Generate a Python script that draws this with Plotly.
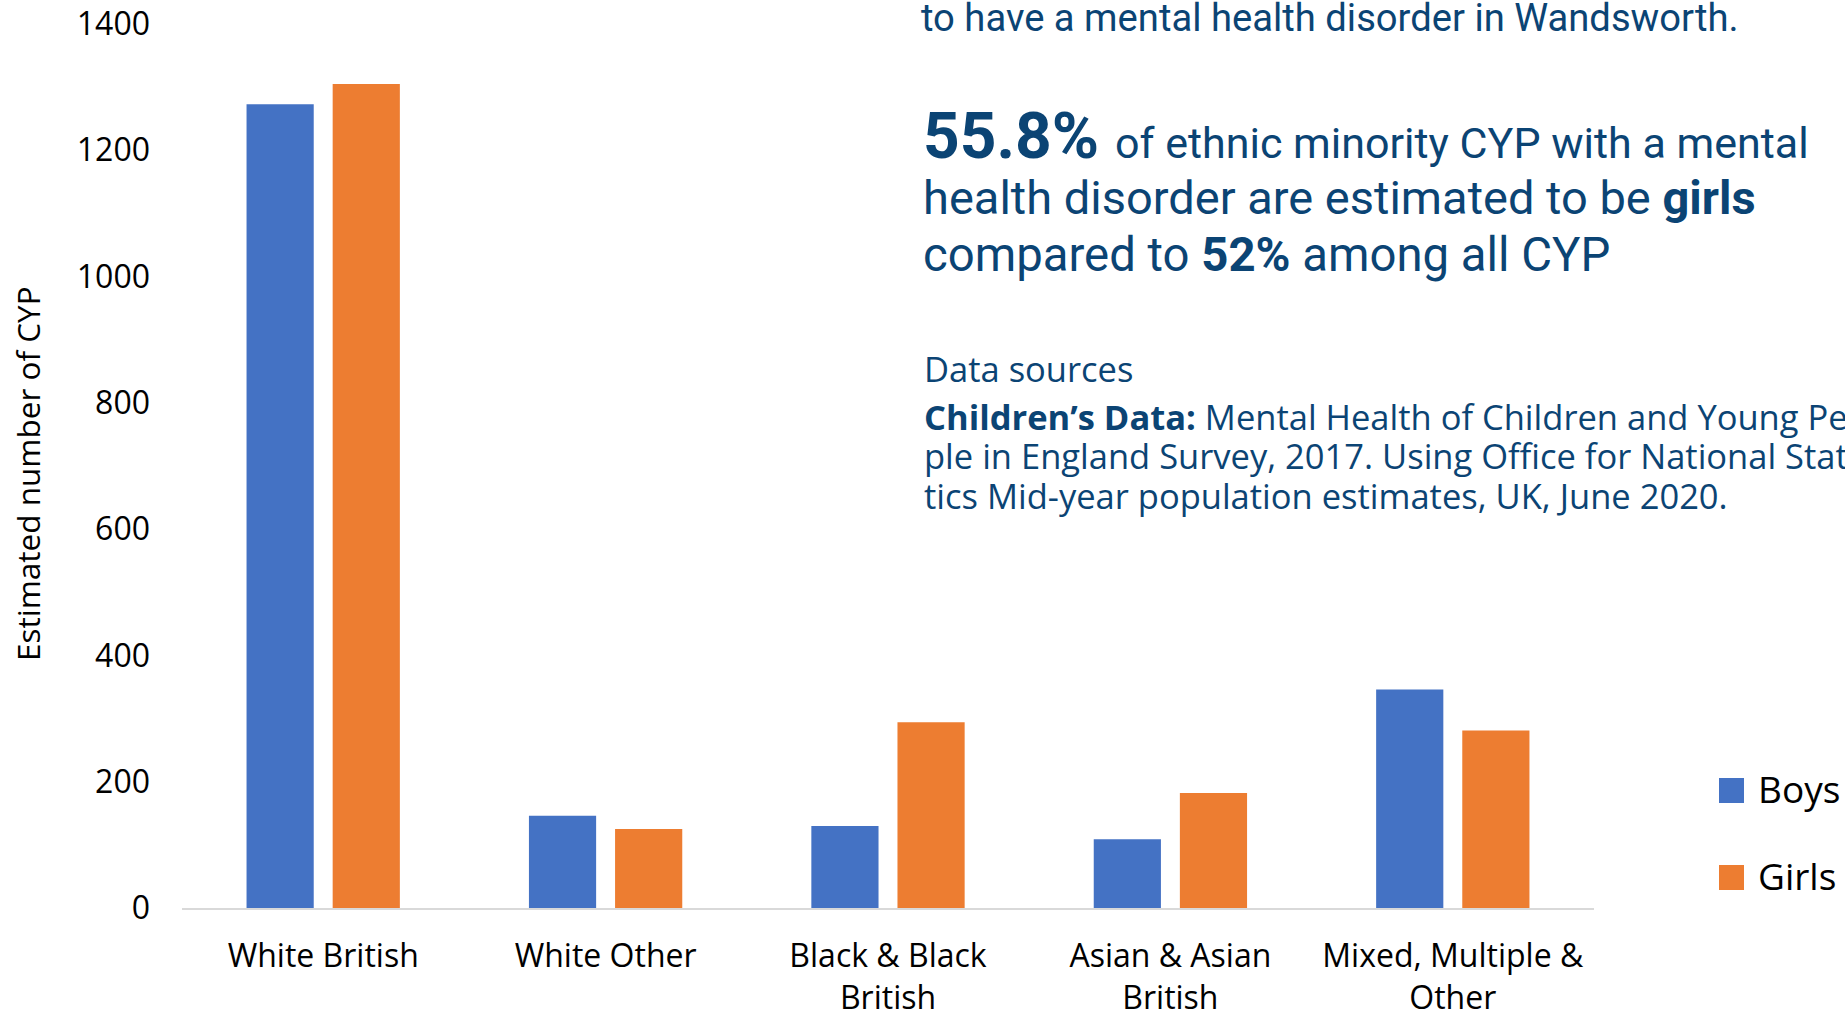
import plotly.graph_objects as go

# Estimated number of children and young people (CYP) with a mental health
# disorder in Wandsworth, by ethnic group and sex
categories = [
    "White British",
    "White Other",
    "Black & Black British",
    "Asian & Asian British",
    "Mixed, Multiple & Other",
]
category_labels = [
    "White British",
    "White Other",
    "Black & Black<br>British",
    "Asian & Asian<br>British",
    "Mixed, Multiple &<br>Other",
]
boys = [1273, 146, 130, 109, 346]
girls = [1305, 125, 294, 182, 281]
y_ticks = [0, 200, 400, 600, 800, 1000, 1200, 1400]

BLUE = "#4472C4"
ORANGE = "#ED7D31"
NAVY = "#0b4474"

W, H = 1845, 1012
ML, MR, MT, MB = 182, 251, 24, 104
PW, PH = W - ML - MR, H - MT - MB

AXIS_FONT = "Open Sans, Noto Sans, sans-serif"
HEAD_FONT = "Roboto, Liberation Sans, sans-serif"
BODY_FONT = "Open Sans, Noto Sans, sans-serif"


def fx(x):
    """Pixel x -> paper x."""
    return (x - ML) / PW


def fy(y):
    """Pixel y -> paper y."""
    return (H - MB - y) / PH


fig = go.Figure()
fig.add_trace(go.Bar(x=categories, y=boys, name="Boys", marker_color=BLUE,
                     marker_line_width=0, showlegend=False))
fig.add_trace(go.Bar(x=categories, y=girls, name="Girls", marker_color=ORANGE,
                     marker_line_width=0, showlegend=False))

annotations = []
shapes = []


def text_line(text, x_left, y_mid, size, family, color=NAVY):
    annotations.append(dict(
        text=text, xref="paper", yref="paper",
        x=fx(x_left), y=fy(y_mid),
        xanchor="left", yanchor="middle", showarrow=False, align="left",
        font=dict(family=family, size=size, color=color), borderpad=0,
    ))


# Key message panel
text_line("to have a mental health disorder in Wandsworth.", 920, 18, 38.2, HEAD_FONT)
text_line("<b>55.8%</b>", 922, 136, 64, HEAD_FONT)
text_line("of ethnic minority CYP with a mental", 1114, 143, 43, HEAD_FONT)
text_line("health disorder are estimated to be <b>girls</b>", 922, 198, 47, HEAD_FONT)
text_line("compared to <b>52%</b> among all CYP", 922, 255, 47.3, HEAD_FONT)

# Data sources
text_line("Data sources", 923, 369, 34.5, BODY_FONT)
text_line("<b>Children’s Data:</b> Mental Health of Children and Young Peo-",
          923, 416, 34.5, BODY_FONT)
text_line("ple in England Survey, 2017. Using Office for National Statis-",
          923, 455, 34.5, BODY_FONT)
text_line("tics Mid-year population estimates, UK, June 2020.",
          923, 495, 34.5, BODY_FONT)

# Y-axis title
annotations.append(dict(
    text="Estimated number of CYP", xref="paper", yref="paper",
    x=fx(27), y=fy(474), xanchor="center", yanchor="middle", textangle=-90,
    showarrow=False, font=dict(family=AXIS_FONT, size=31.5, color="#000000"),
))

# Legend
for name, color, top in [("Boys", BLUE, 778), ("Girls", ORANGE, 865)]:
    shapes.append(dict(type="rect", xref="paper", yref="paper",
                       x0=fx(1719), x1=fx(1744), y0=fy(top + 25), y1=fy(top),
                       fillcolor=color, line=dict(width=0)))
    text_line(name, 1757, top + 25 - 0.388 * 37, 37, AXIS_FONT, color="#000000")

fig.update_layout(
    width=W, height=H,
    margin=dict(l=ML, r=MR, t=MT, b=MB, pad=0),
    paper_bgcolor="white", plot_bgcolor="white",
    barmode="group", bargap=0.39, bargroupgap=0.22,
    annotations=annotations, shapes=shapes,
    showlegend=False,
)
fig.update_xaxes(
    type="category", tickmode="array", tickvals=categories, ticktext=category_labels,
    showline=True, linecolor="#d9d9d9", linewidth=2, ticks="", showgrid=False,
    zeroline=False, automargin=False, ticklabelstandoff=19,
    tickfont=dict(family=AXIS_FONT, size=32, color="#000000"),
)
fig.update_yaxes(
    range=[0, 1400], tickmode="array", tickvals=y_ticks,
    showline=False, showgrid=False, zeroline=False, ticks="",
    automargin=False, ticklabelstandoff=31,
    tickfont=dict(family=AXIS_FONT, size=32, color="#000000"),
)

fig.write_html("out.html")
